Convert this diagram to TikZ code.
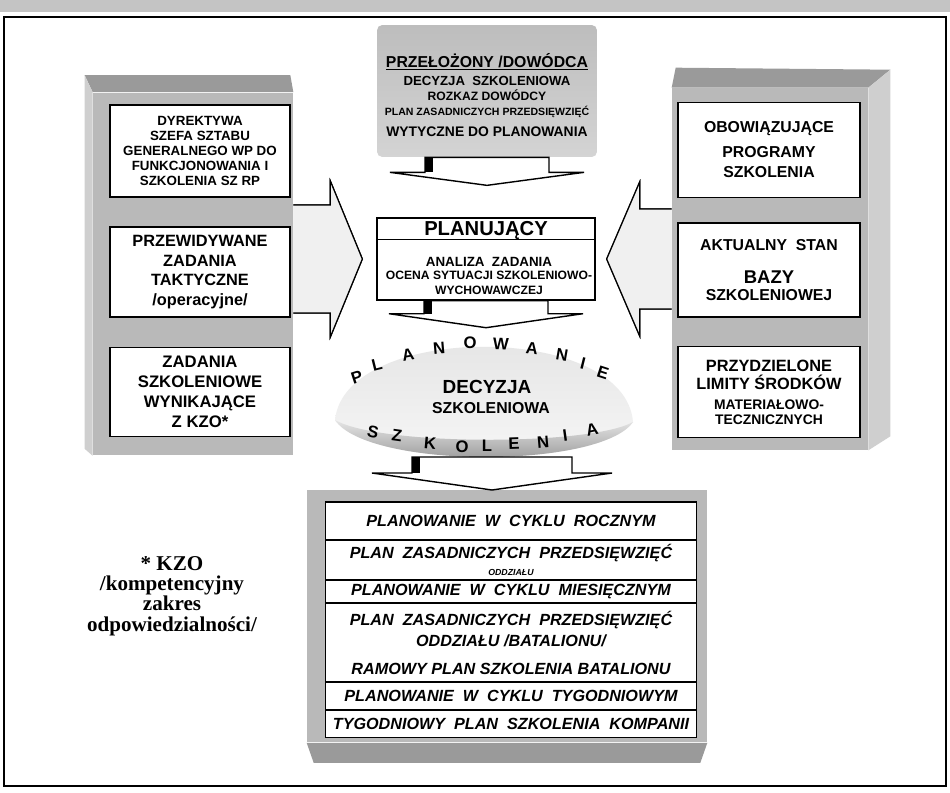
\documentclass[tikz,border=0pt]{standalone}
\usepackage{fontspec}
\setmainfont{Liberation Sans}
\newfontfamily\kzofont{Liberation Serif}
\usetikzlibrary{calc,positioning}
\definecolor{SlabGray}{HTML}{B9B9B9}
\definecolor{SlabDark}{HTML}{9A9A9A}
\definecolor{SlabLight}{HTML}{CFCFCF}
\definecolor{BandGray}{HTML}{C4C4C4}
\definecolor{BossTop}{HTML}{BDBDBD}
\definecolor{BossBottom}{HTML}{D4D4D4}
\definecolor{ArrowGray}{HTML}{F0F0F0}
\definecolor{BowlGray}{HTML}{8A8A8A}
\newcommand\fsz[2]{\fontsize{#1}{#2}\selectfont}
\newcommand\downblock[5]{%
  \draw[blockarr] ($(#1)+(-#2,0)$) -- ($(#1)+(-#2,#3)$) -- ($(#1)+(-#4,#3)$)
    -- ($(#1)+({0},{#3+#5})$) -- ($(#1)+(#4,#3)$) -- ($(#1)+(#2,#3)$)
    -- ($(#1)+(#2,0)$) -- cycle;
  \fill ($(#1)+(-#2,0)$) rectangle ($(#1)+({-#2+8},#3)$);}
\newcommand\sideblock[6]{%
  \draw[sidearr] ($(#1)+(0,-#3)$) -- ($(#1)+({#2*#4},-#3)$) -- ($(#1)+({#2*#4},-#5)$)
    -- ($(#1)+({#2*(#4+#6)},0)$) -- ($(#1)+({#2*#4},#5)$) -- ($(#1)+({#2*#4},#3)$)
    -- ($(#1)+(0,#3)$);}

\begin{document}
\begin{tikzpicture}[x=0.02cm,y=-0.02cm,
    slabbox/.style={draw,fill=white,line width=0.8pt,align=center,inner sep=0pt},
    listrow/.style={draw,fill=white,line width=0.6pt,minimum width=7.44cm,align=center,
      inner sep=0pt,outer sep=0pt,font=\fsz{9.2}{11}\bfseries\itshape},
    blockarr/.style={draw,fill=white,line width=0.8pt},
    sidearr/.style={draw,fill=ArrowGray,line width=0.7pt},
    arcletter/.style={inner sep=0pt,font=\fsz{9.5}{9.5}\bfseries}]
  \useasboundingbox (0,0) rectangle (950,792);
  \fill[white] (0,0) rectangle (950,792);
  \fill[BandGray] (0,0) rectangle (950,12);
  \draw[line width=1.2pt] (4,17) rectangle (946,786);

  % left slab
  \node[fill=SlabGray,minimum width=4cm,minimum height=7.26cm,inner sep=0pt] (lslab) at (193,274) {};
  \fill[SlabDark] (lslab.north west) -- ++(-8,-17) -- ($(lslab.north east)+(-3,-17)$) -- (lslab.north east) -- cycle;
  \fill[SlabLight] (lslab.north west) -- ++(-8,-17) -- ($(lslab.south west)+(-8,-7)$) -- (lslab.south west) -- cycle;
  \node[slabbox,minimum width=3.6cm,minimum height=1.84cm,font=\fsz{7.6}{8.5}\bfseries] (dyr) at (200,151)
    {DYREKTYWA\\SZEFA SZTABU\\GENERALNEGO WP DO\\FUNKCJONOWANIA I\\SZKOLENIA SZ RP};
  \node[slabbox,minimum width=3.6cm,minimum height=1.8cm,font=\fsz{9.3}{11.2}\bfseries] (taktyczne) at (200,272)
    {PRZEWIDYWANE\\ZADANIA\\TAKTYCZNE\\/operacyjne/};
  \node[slabbox,minimum width=3.6cm,minimum height=1.78cm,font=\fsz{9.5}{11.3}\bfseries] (kzozad) at (200,392)
    {ZADANIA\\SZKOLENIOWE\\WYNIKAJĄCE\\Z KZO*};

  % right slab
  \node[fill=SlabGray,minimum width=3.92cm,minimum height=7.24cm,inner sep=0pt] (rslab) at (770,269) {};
  \fill[SlabDark] (rslab.north west) -- ++(4,-20) -- ($(rslab.north east)+(22,-18)$) -- (rslab.north east) -- cycle;
  \fill[SlabLight] (rslab.north east) -- ++(22,-18) -- ($(rslab.south east)+(22,-14)$) -- (rslab.south east) -- cycle;
  \node[slabbox,minimum width=3.64cm,minimum height=1.9cm,font=\fsz{9}{11.4}\bfseries] (programy) at (769,150)
    {OBOWIĄZUJĄCE\\[2.8pt]PROGRAMY\\SZKOLENIA};
  \node[slabbox,minimum width=3.64cm,minimum height=1.88cm,font=\fsz{9}{9.1}\bfseries] (baza) at (769,270)
    {AKTUALNY~~STAN\\[9.5pt]{\fsz{10.5}{10.5}BAZY}\\[0.5pt]SZKOLENIOWEJ};
  \node[slabbox,minimum width=3.64cm,minimum height=1.82cm,font=\fsz{9.3}{10.2}\bfseries] (limity) at (769,392)
    {PRZYDZIELONE\\LIMITY ŚRODKÓW\\[1.2pt]{\fsz{7.9}{7.9}MATERIAŁOWO-}\\[-1.7pt]{\fsz{7.9}{7.9}TECZNICZNYCH}};

  % superior
  \node[top color=BossTop,bottom color=BossBottom,rounded corners=3pt,minimum width=4.4cm,
    minimum height=2.64cm,inner sep=0pt] (boss) at (487,91) {};
  \node[align=center,font=\fsz{7.5}{8.3}\bfseries] (bosstxt) at (487,95)
    {{\fsz{9}{9}\underline{PRZEŁOŻONY /DOWÓDCA}}\\[2.3pt]DECYZJA~~SZKOLENIOWA\\
     {\fsz{6.9}{7}ROZKAZ DOWÓDCY}\\[0.5pt]{\fsz{6}{6}PLAN ZASADNICZYCH PRZEDSIĘWZIĘĆ}\\[3.7pt]
     {\fsz{7.9}{8}WYTYCZNE DO PLANOWANIA}};

  % planner
  \node[draw,fill=white,line width=0.8pt,minimum width=4.36cm,minimum height=1.64cm,inner sep=0pt] (plan) at (486,259) {};
  \node[font=\fsz{11.5}{12}\bfseries] (plantitle) at (486,230) {PLANUJĄCY};
  \draw[line width=0.6pt] ([yshift=-0.44cm]plan.north west) -- ([yshift=-0.44cm]plan.north east);
  \node[align=center,font=\fsz{6.9}{7.4}\bfseries] (plantxt) at (489,276)
    {{\fsz{7.6}{7.6}ANALIZA~~ZADANIA}\\OCENA SYTUACJI SZKOLENIOWO-\\[1pt]WYCHOWAWCZEJ};

  % planning lens
  \shade[top color=gray!22,bottom color=gray!6] (335,420) .. controls (345,322) and (625,322) .. (633,422)
    .. controls (600,469) and (368,469) .. (335,420) -- cycle;
  \shade[top color=gray!20,bottom color=BowlGray] (335,420) .. controls (368,469) and (600,469) .. (633,422)
    .. controls (590,446) and (380,446) .. (335,420) -- cycle;
  \foreach \l/\x/\y/\r in {P/357/377/18,L/377/365/14,A/408/355/10,N/439/348/5,O/470/343/0,
      W/501/344/-2,A/532/348/-6,N/562/355/-10,I/583/363/-14,E/603/373/-18}
    \node[arcletter,rotate=\r] (top\x) at (\x,\y) {\l};
  \foreach \l/\x/\y/\r in {S/373/432/-12,Z/397/436/-8,K/430/443/-5,O/462/447/0,L/487/446/0,
      E/514/444/2,N/543/442/5,I/565/435/8,A/592/430/12}
    \node[arcletter,rotate=\r] (bot\x) at (\x,\y) {\l};
  \node[font=\fsz{10.8}{11}\bfseries] (decyzja) at (487,387) {DECYZJA};
  \node[font=\fsz{9}{9}\bfseries] (szkol) at (491,408) {SZKOLENIOWA};
  \coordinate (plano) at (492,457);

  % plans list
  \node[fill=SlabGray,minimum width=8cm,minimum height=5.06cm,inner sep=0pt] (lslist) at (507,616) {};
  \fill[SlabDark] (lslist.south west) -- (lslist.south east) -- ++(-7,20) -- ($(lslist.south west)+(7,20)$) -- cycle;
  \node[listrow,minimum height=0.76cm] (r1) at (511,521) {PLANOWANIE~~W~~CYKLU~~ROCZNYM};
  \node[listrow,minimum height=0.8cm,below=0pt of r1] (r2)
    {PLAN~~ZASADNICZYCH~~PRZEDSIĘWZIĘĆ\\[-1.5pt]{\fsz{5}{5}ODDZIAŁU}};
  \node[listrow,minimum height=0.46cm,below=0pt of r2] (r3) {PLANOWANIE~~W~~CYKLU~~MIESIĘCZNYM};
  \node[listrow,minimum height=1.58cm,below=0pt of r3] (r4)
    {PLAN~~ZASADNICZYCH~~PRZEDSIĘWZIĘĆ\\[1.5pt]ODDZIAŁU /BATALIONU/\\[4.4pt]RAMOWY PLAN SZKOLENIA BATALIONU};
  \node[listrow,minimum height=0.56cm,below=0pt of r4] (r5) {PLANOWANIE~~W~~CYKLU~~TYGODNIOWYM};
  \node[listrow,minimum height=0.56cm,below=0pt of r5] (r6) {TYGODNIOWY~~PLAN~~SZKOLENIA~~KOMPANII};

  % arrows
  \downblock{boss.south}{62}{15}{97}{13}
  \downblock{plan.south}{62}{13}{97}{14}
  \downblock{plano}{80}{16}{120}{17}
  \begin{scope}[shift={(-3,-3)}]
    \sideblock{lslab.east |- plan.west}{1}{54}{37}{78}{32}
  \end{scope}
  \sideblock{lslab.east |- plan.west}{1}{54}{37}{78}{32}
  \begin{scope}[shift={(3,-3)}]
    \sideblock{rslab.west |- plan.east}{-1}{50}{32}{77}{33}
  \end{scope}
  \sideblock{rslab.west |- plan.east}{-1}{50}{32}{77}{33}

  \node[align=center,font=\kzofont\bfseries\fsz{12}{11.5}] (kzo) at (172,596)
    {* KZO\\/kompetencyjny\\zakres\\odpowiedzialności/};
\end{tikzpicture}
\end{document}
